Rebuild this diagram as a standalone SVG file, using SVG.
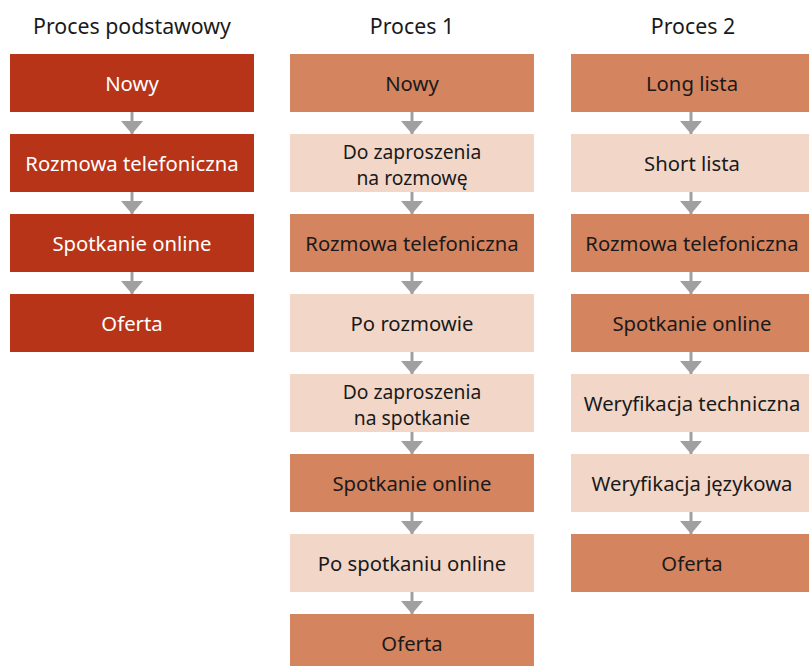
<svg xmlns="http://www.w3.org/2000/svg" width="809" height="666" viewBox="0 0 809 666">
<defs>
<style>
text{font-family:"Noto Sans","Open Sans","DejaVu Sans",sans-serif;font-size:20.3px;text-anchor:middle;fill:#1a1a1a}
.t{font-size:21.3px}
.s{font-size:19.3px}
.w{fill:#ffffff}
.d{fill:#B83418}
.m{fill:#D4845F}
.l{fill:#F2D7C8}
.c line{stroke:#A0A0A0;stroke-width:3}
</style>
<marker id="ah" markerUnits="userSpaceOnUse" markerWidth="13" markerHeight="22" refX="13" refY="11" viewBox="0 0 13 22" orient="auto">
<path d="M0,0 L13,11 L0,22 Z" fill="#A0A0A0"/>
</marker>
</defs>
<rect width="809" height="666" fill="#ffffff"/>
<text class="t" x="132" y="34">Proces podstawowy</text>
<text class="t" x="412" y="34">Proces 1</text>
<text class="t" x="693" y="34">Proces 2</text>
<g class="c">
<line x1="132" y1="112" x2="132" y2="134" marker-end="url(#ah)"/>
<line x1="132" y1="192" x2="132" y2="214" marker-end="url(#ah)"/>
<line x1="132" y1="272" x2="132" y2="294" marker-end="url(#ah)"/>
<line x1="412" y1="112" x2="412" y2="134" marker-end="url(#ah)"/>
<line x1="412" y1="192" x2="412" y2="214" marker-end="url(#ah)"/>
<line x1="412" y1="272" x2="412" y2="294" marker-end="url(#ah)"/>
<line x1="412" y1="352" x2="412" y2="374" marker-end="url(#ah)"/>
<line x1="412" y1="432" x2="412" y2="454" marker-end="url(#ah)"/>
<line x1="412" y1="512" x2="412" y2="534" marker-end="url(#ah)"/>
<line x1="412" y1="592" x2="412" y2="614" marker-end="url(#ah)"/>
<line x1="691" y1="112" x2="691" y2="134" marker-end="url(#ah)"/>
<line x1="691" y1="192" x2="691" y2="214" marker-end="url(#ah)"/>
<line x1="691" y1="272" x2="691" y2="294" marker-end="url(#ah)"/>
<line x1="691" y1="352" x2="691" y2="374" marker-end="url(#ah)"/>
<line x1="691" y1="432" x2="691" y2="454" marker-end="url(#ah)"/>
<line x1="691" y1="512" x2="691" y2="534" marker-end="url(#ah)"/>
</g>
<g id="a1"><rect class="d" x="10" y="54" width="244" height="58"/><text class="w" x="132" y="91">Nowy</text></g>
<g id="a2"><rect class="d" x="10" y="134" width="244" height="58"/><text class="w" x="132" y="171">Rozmowa telefoniczna</text></g>
<g id="a3"><rect class="d" x="10" y="214" width="244" height="58"/><text class="w" x="132" y="251">Spotkanie online</text></g>
<g id="a4"><rect class="d" x="10" y="294" width="244" height="58"/><text class="w" x="132" y="331">Oferta</text></g>

<g id="b1"><rect class="m" x="290" y="54" width="244" height="58"/><text x="412" y="91">Nowy</text></g>
<g id="b2"><rect class="l" x="290" y="134" width="244" height="58"/><text class="s" x="412" y="158.6">Do zaproszenia</text><text class="s" x="412" y="185">na rozmowę</text></g>
<g id="b3"><rect class="m" x="290" y="214" width="244" height="58"/><text x="412" y="251">Rozmowa telefoniczna</text></g>
<g id="b4"><rect class="l" x="290" y="294" width="244" height="58"/><text x="412" y="331">Po rozmowie</text></g>
<g id="b5"><rect class="l" x="290" y="374" width="244" height="58"/><text class="s" x="412" y="398.6">Do zaproszenia</text><text class="s" x="412" y="425">na spotkanie</text></g>
<g id="b6"><rect class="m" x="290" y="454" width="244" height="58"/><text x="412" y="491">Spotkanie online</text></g>
<g id="b7"><rect class="l" x="290" y="534" width="244" height="58"/><text x="412" y="571">Po spotkaniu online</text></g>
<g id="b8"><rect class="m" x="290" y="614" width="244" height="58"/><text x="412" y="651">Oferta</text></g>

<g id="c1"><rect class="m" x="571" y="54" width="244" height="58"/><text x="692" y="91">Long lista</text></g>
<g id="c2"><rect class="l" x="571" y="134" width="244" height="58"/><text x="692" y="171">Short lista</text></g>
<g id="c3"><rect class="m" x="571" y="214" width="244" height="58"/><text x="692" y="251">Rozmowa telefoniczna</text></g>
<g id="c4"><rect class="m" x="571" y="294" width="244" height="58"/><text x="692" y="331">Spotkanie online</text></g>
<g id="c5"><rect class="l" x="571" y="374" width="244" height="58"/><text x="692" y="411">Weryfikacja techniczna</text></g>
<g id="c6"><rect class="l" x="571" y="454" width="244" height="58"/><text x="692" y="491">Weryfikacja językowa</text></g>
<g id="c7"><rect class="m" x="571" y="534" width="244" height="58"/><text x="692" y="571">Oferta</text></g>
</svg>
